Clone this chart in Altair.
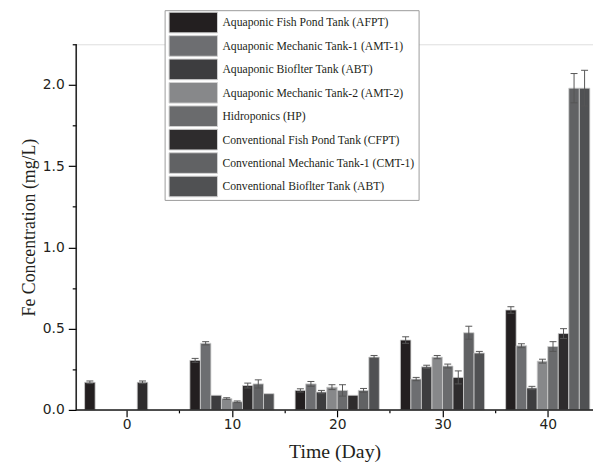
import altair as alt
import pandas as pd

days = [0, 10, 20, 30, 40]
series = [
    "Aquaponic Fish Pond Tank (AFPT)",
    "Aquaponic Mechanic Tank-1 (AMT-1)",
    "Aquaponic Bioflter Tank (ABT)",
    "Aquaponic Mechanic Tank-2 (AMT-2)",
    "Hidroponics (HP)",
    "Conventional Fish Pond Tank (CFPT)",
    "Conventional Mechanic Tank-1 (CMT-1)",
    "Conventional Bioflter Tank (ABT)",
]
colors = ["#231f20", "#6d6e71", "#3d3d3f", "#87888a", "#6a6b6d", "#2e2c2d", "#616264", "#505153"]

afpt = [0.17, 0.305, 0.12, 0.43, 0.615]
amt1 = [0.0, 0.41, 0.16, 0.19, 0.395]
abt = [0.0, 0.09, 0.11, 0.265, 0.135]
amt2 = [0.0, 0.07, 0.14, 0.325, 0.30]
hp = [0.0, 0.05, 0.12, 0.27, 0.39]
cfpt = [0.17, 0.15, 0.09, 0.20, 0.47]
cmt1 = [0.0, 0.16, 0.12, 0.475, 1.98]
cbt = [0.0, 0.10, 0.325, 0.35, 1.98]

afpt_err = [0.008, 0.012, 0.01, 0.02, 0.02]
amt1_err = [0.0, 0.01, 0.015, 0.01, 0.012]
abt_err = [0.0, 0.0, 0.01, 0.01, 0.01]
amt2_err = [0.0, 0.005, 0.015, 0.01, 0.012]
hp_err = [0.0, 0.005, 0.035, 0.012, 0.03]
cfpt_err = [0.008, 0.015, 0.0, 0.04, 0.03]
cmt1_err = [0.0, 0.025, 0.012, 0.04, 0.09]
cbt_err = [0.0, 0.0, 0.01, 0.01, 0.11]

all_vals = [afpt, amt1, abt, amt2, hp, cfpt, cmt1, cbt]
all_errs = [afpt_err, amt1_err, abt_err, amt2_err, hp_err, cfpt_err, cmt1_err, cbt_err]

rows = []
for i, s in enumerate(series):
    for j, d in enumerate(days):
        rows.append({"series": s, "idx": i, "day": d,
                     "value": all_vals[i][j], "err": all_errs[i][j]})
df = pd.DataFrame(rows)

W, H = 523, 370
SERIF = "Liberation Serif"
SANS = "DejaVu Sans"

base = alt.Chart(df).transform_filter("datum.value > 0").transform_calculate(
    xs="datum.day + datum.idx - 4",
    xe="datum.day + datum.idx - 3",
    xc="datum.day + datum.idx - 3.5",
    lo="datum.value - datum.err",
    hi="datum.value + datum.err",
    cl="datum.day + datum.idx - 3.5 - 0.33",
    cr="datum.day + datum.idx - 3.5 + 0.33",
    zero="0",
)

xscale = alt.Scale(domain=[-4.8, 44.3], nice=False, zero=False)
yscale = alt.Scale(domain=[0, 2.25], nice=False)
color_scale = alt.Scale(domain=series, range=colors)

xaxis = alt.Axis(
    values=[0, 5, 10, 15, 20, 25, 30, 35, 40],
    labelExpr="datum.value % 10 === 0 ? datum.label : ''",
    tickSize={"condition": {"test": "datum.value % 10 === 0", "value": 7}, "value": 3},
    labelFont=SANS, labelFontSize=14, labelColor="#231f20", labelPadding=1,
    titleFont=SERIF, titleFontSize=20, titleFontWeight="normal", titleColor="#231f20",
    titlePadding=10, grid=False, domain=False,
    tickColor="#000", tickWidth=1.2,
)
yaxis = alt.Axis(
    values=[0, 0.25, 0.5, 0.75, 1.0, 1.25, 1.5, 1.75, 2.0, 2.25],
    labelExpr="(datum.value * 2) % 1 === 0 ? format(datum.value, '.1f') : ''",
    tickSize={"condition": {"test": "(datum.value * 2) % 1 === 0", "value": 8}, "value": 4},
    labelFont=SANS, labelFontSize=14, labelColor="#231f20", labelPadding=4,
    titleFont=SERIF, titleFontSize=18, titleFontWeight="normal", titleColor="#231f20",
    titlePadding=4, grid=False, domain=False,
    tickColor="#000", tickWidth=1.2,
)

bars = base.mark_bar(stroke="#cfcfcf", strokeWidth=0.8).encode(
    x=alt.X("xs:Q", scale=xscale, axis=xaxis, title="Time (Day)"),
    x2="xe:Q",
    y=alt.Y("value:Q", scale=yscale, axis=yaxis, title="Fe Concentration (mg/L)"),
    y2="zero:Q",
    color=alt.Color("series:N", scale=color_scale, legend=None),
)
errs = base.transform_filter("datum.err > 0")
err_line = errs.mark_rule(color="#555555", strokeWidth=1).encode(
    x="xc:Q", y="lo:Q", y2="hi:Q")
cap_top = errs.mark_rule(color="#555555", strokeWidth=1).encode(
    x="cl:Q", x2="cr:Q", y="hi:Q")
cap_bot = errs.mark_rule(color="#555555", strokeWidth=1).encode(
    x="cl:Q", x2="cr:Q", y="lo:Q")

one = pd.DataFrame({"a": [0]})
y_line = alt.Chart(one).mark_rule(color="#1a1a1a", strokeWidth=1.5).encode(
    x=alt.value(0), y=alt.value(0), y2=alt.value(H))
x_line = alt.Chart(one).mark_rule(color="#1a1a1a", strokeWidth=1.5).encode(
    x=alt.value(0), x2=alt.value(W), y=alt.value(H))

data_layer = alt.layer(bars, err_line, cap_top, cap_bot, y_line, x_line)

legend_df = pd.DataFrame({"series": series})
leg_y = alt.Scale(domain=series, range=[-33.85, 155.75], paddingInner=0.12, paddingOuter=0.06)

box = alt.Chart(one).mark_rect(
    fill="white", stroke="#9a9a9a", strokeWidth=1).encode(
    x=alt.value(90), x2=alt.value(347), y=alt.value(-34), y2=alt.value(158))
swatches = alt.Chart(legend_df).mark_rect(stroke="#d0d0d0", strokeWidth=1).encode(
    x=alt.value(94), x2=alt.value(143),
    y=alt.Y("series:N", scale=leg_y, axis=None),
    color=alt.Color("series:N", scale=color_scale, legend=None),
)
labels = alt.Chart(legend_df).mark_text(
    align="left", baseline="middle", font=SERIF, fontSize=11.8, color="#231f20").encode(
    x=alt.value(148),
    y=alt.Y("series:N", scale=leg_y, axis=None),
    text="series:N",
)
legend_layer = alt.layer(box, swatches, labels)

chart = alt.layer(data_layer, legend_layer).resolve_scale(y="independent").properties(
    width=W, height=H,
    autosize=alt.AutoSizeParams(type="none"),
    padding={"left": 69, "top": 34, "right": 0, "bottom": 50},
).configure_view(stroke=None).configure(background="white")

chart.save("out.html", embed_options={"renderer": "svg", "actions": False})
